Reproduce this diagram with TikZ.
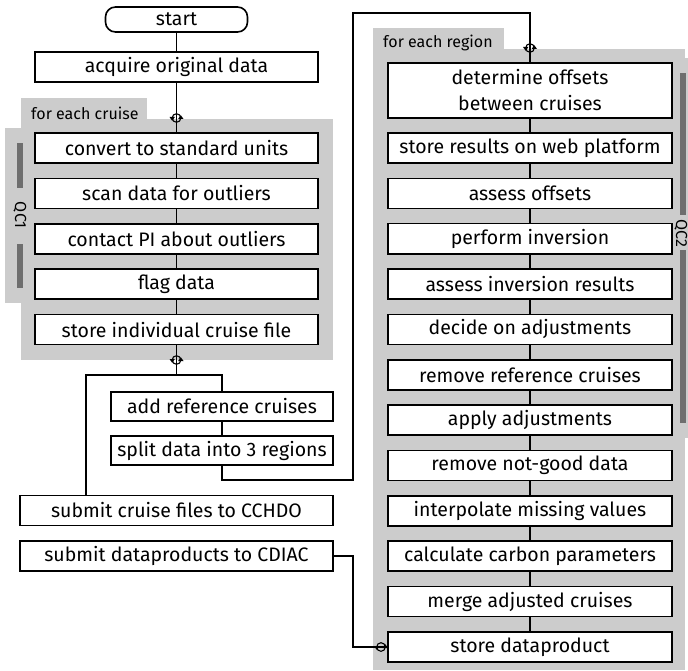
\documentclass[tikz,border=0pt]{standalone}
\usepackage{fontspec}
\setmainfont{Fira Sans}
\usetikzlibrary{arrows.meta}
\definecolor{panelgray}{HTML}{CCCCCC}
\definecolor{bargray}{HTML}{6E6E6E}

\tikzset{
  stepbox/.style={draw, line width=1.6pt, fill=white, minimum width=283pt,
    minimum height=30pt, inner sep=0pt, align=center,
    font=\fontsize{19.5}{26}\selectfont},
  regbox/.style={stepbox, minimum width=284pt},
  sidebox/.style={stepbox, minimum width=222pt, minimum height=29pt},
  outbox/.style={stepbox, minimum width=313pt},
  startbox/.style={stepbox, rounded corners=10pt, minimum width=142pt, minimum height=25pt},
  link/.style={line width=1.6pt},
  panelfill/.style={fill=panelgray, draw=none},
  qcbar/.style={fill=bargray, draw=none},
  tabtext/.style={font=\fontsize{16}{18}\selectfont, anchor=base west, inner sep=0pt},
  qctext/.style={font=\fontsize{16}{18}\selectfont, rotate=-90, inner sep=0pt},
  % small cycle symbol: a ring with an arrowhead on either side
  loopmark/.pic={
    \draw[line width=1.1pt] (0,0) circle[radius=4.3];
    \fill (-7,-1) -- (-1.6,-1) -- (-4.3,2.8) -- cycle;
    \fill (1.6,1) -- (7,1) -- (4.3,-2.8) -- cycle;
  }
}

\begin{document}
\begin{tikzpicture}[x=1pt, y=-1pt]
\useasboundingbox (0,0) rectangle (688,671);

% --- "for each cruise" panel (QC1)
\fill[panelfill] (21,98) rectangle (147,119);
\fill[panelfill] (21,119) rectangle (333,360);
\fill[panelfill] (5,128) rectangle (21,303);
\node[tabtext] (cruisetab) at (31,120) {for each cruise};
\fill[qcbar] (17,143) rectangle (23,188);
\fill[qcbar] (17,244) rectangle (23,288);
\node[qctext] (qc1) at (20,215) {QC1};

% --- "for each region" panel (QC2)
\fill[panelfill] (373,28) rectangle (504,49);
\fill[panelfill] (373,49) rectangle (685,670);
\fill[panelfill] (685,58) rectangle (700,438);
\node[tabtext] (regiontab) at (383,48) {for each region};
\fill[qcbar] (680,73) rectangle (686,215);
\fill[qcbar] (680,250) rectangle (686,423);
\node[qctext] (qc2) at (681,233) {QC2};

% --- left column
\node[startbox] (start) at (176.5,19.5) {start};
\node[stepbox] (acq) at (176.5,67) {acquire original data};
\node[stepbox] (conv) at (176.5,148) {convert to standard units};
\node[stepbox] (scan) at (176.5,193.4) {scan data for outliers};
\node[stepbox] (contact) at (176.5,238.8) {contact PI about outliers};
\node[stepbox] (flag) at (176.5,284.2) {flag data};
\node[stepbox] (storecr) at (176.5,329.6) {store individual cruise file};

\node[sidebox] (addref) at (222,406.5) {add reference cruises};
\node[sidebox] (split) at (222,450.5) {split data into 3 regions};

\node[outbox] (cchdo) at (176.5,510.5) {submit cruise files to CCHDO};
\node[outbox] (cdiac) at (176.5,556) {submit dataproducts to CDIAC};

% --- right column
\node[regbox, minimum height=55pt] (det) at (530,90.5) {determine offsets\\between cruises};
\node[regbox] (web) at (530,148) {store results on web platform};
\node[regbox] (assess) at (530,193.4) {assess offsets};
\node[regbox] (inv) at (530,238.7) {perform inversion};
\node[regbox] (assinv) at (530,284.1) {assess inversion results};
\node[regbox] (decide) at (530,329.4) {decide on adjustments};
\node[regbox] (remref) at (530,374.8) {remove reference cruises};
\node[regbox] (apply) at (530,420.2) {apply adjustments};
\node[regbox] (notgood) at (530,465.5) {remove not-good data};
\node[regbox] (interp) at (530,510.9) {interpolate missing values};
\node[regbox] (carbon) at (530,556.2) {calculate carbon parameters};
\node[regbox] (merge) at (530,601.6) {merge adjusted cruises};
\node[regbox] (storedp) at (530,647) {store dataproduct};

% --- bend points of the routed connectors
\coordinate (forkL) at (86,375);
\coordinate (bendA) at (353,480);
\coordinate (bendB) at (353,13);
\coordinate (bendC) at (353,556);

% --- connectors, left column
\draw[link] (start) -- (acq);
\draw[link] (acq) -- (conv);
\draw[link] (conv) -- (scan);
\draw[link] (scan) -- (contact);
\draw[link] (contact) -- (flag);
\draw[link] (flag) -- (storecr);
\draw[link] (storecr) -- (storecr.south |- forkL);
\draw[link] (addref.north) |- (forkL) -- (cchdo.north -| forkL);
\draw[link] (addref) -- (split);
\draw[link] (split) |- (bendA) -- (bendB) -| (det);

% --- connectors, right column
\draw[link] (det) -- (web);
\draw[link] (web) -- (assess);
\draw[link] (assess) -- (inv);
\draw[link] (inv) -- (assinv);
\draw[link] (assinv) -- (decide);
\draw[link] (decide) -- (remref);
\draw[link] (remref) -- (apply);
\draw[link] (apply) -- (notgood);
\draw[link] (notgood) -- (interp);
\draw[link] (interp) -- (carbon);
\draw[link] (carbon) -- (merge);
\draw[link] (merge) -- (storedp);
\draw[link] (cdiac.east) -- (bendC) |- (storedp.west);

% --- loop markers where the connectors enter or leave a loop
\pic at (176.5,118) {loopmark};
\pic at (176.5,360) {loopmark};
\pic at (530,48) {loopmark};
\pic at (381,647) {loopmark};
\end{tikzpicture}
\end{document}
